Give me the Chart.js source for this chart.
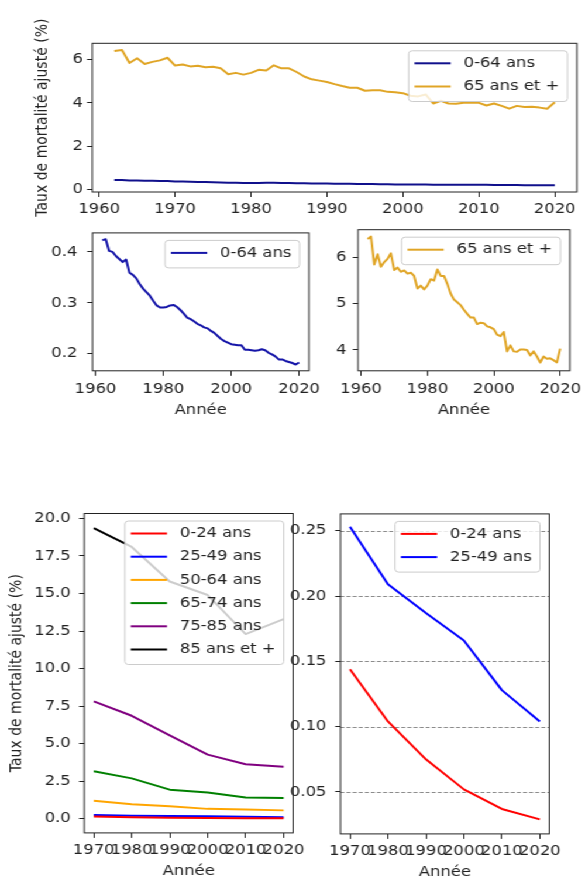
<!DOCTYPE html>
<html><head><meta charset="utf-8">
<script src="https://cdn.jsdelivr.net/npm/chart.js@4.4.1/dist/chart.umd.min.js"></script>
<style>
html,body{margin:0;padding:0;background:#fff;width:587px;height:877px;overflow:hidden;}
#fig{position:absolute;left:0;top:0;width:502px;height:877px;transform:scaleX(1.17);transform-origin:0 0;}
#fig canvas{position:absolute;}
</style></head><body><div id="fig"></div>
<script>
// ---------- DATA ----------
const years = [1962,1963,1964,1965,1966,1967,1968,1969,1970,1971,1972,1973,1974,1975,1976,1977,1978,1979,1980,1981,1982,1983,1984,1985,1986,1987,1988,1989,1990,1991,1992,1993,1994,1995,1996,1997,1998,1999,2000,2001,2002,2003,2004,2005,2006,2007,2008,2009,2010,2011,2012,2013,2014,2015,2016,2017,2018,2019,2020];
const under65 = [0.423,0.425,0.402,0.400,0.392,0.386,0.380,0.385,0.359,0.355,0.348,0.337,0.328,0.321,0.314,0.304,0.295,0.291,0.291,0.292,0.295,0.296,0.292,0.286,0.279,0.271,0.268,0.264,0.259,0.256,0.252,0.250,0.245,0.241,0.235,0.229,0.225,0.222,0.219,0.218,0.217,0.217,0.208,0.208,0.207,0.206,0.207,0.209,0.207,0.202,0.199,0.195,0.189,0.189,0.186,0.184,0.182,0.179,0.183];
const over65 = [6.40,6.45,5.85,6.07,5.80,5.90,5.97,6.09,5.73,5.78,5.69,5.72,5.65,5.67,5.60,5.33,5.39,5.31,5.39,5.53,5.50,5.74,5.60,5.60,5.43,5.22,5.09,5.03,4.97,4.87,4.78,4.70,4.70,4.56,4.59,4.58,4.51,4.49,4.45,4.33,4.30,4.39,3.97,4.10,3.97,3.96,4.01,4.01,4.00,3.88,3.97,3.86,3.73,3.86,3.81,3.82,3.78,3.73,4.03];

const decades = [1970,1980,1990,2000,2010,2020];
const age0_24  = [0.144,0.104,0.075,0.052,0.037,0.029];
const age25_49 = [0.253,0.209,0.187,0.166,0.128,0.104];
const age50_64 = [1.20,0.96,0.83,0.66,0.62,0.56];
const age65_74 = [3.16,2.69,1.94,1.75,1.41,1.39];
const age75_85 = [7.82,6.86,5.56,4.27,3.63,3.46];
const age85p   = [19.36,18.10,15.80,14.90,12.30,13.30];

const topXTicks = [1960,1970,1980,1990,2000,2010,2020];
const topYTicks = [0,2,4,6];
const midXTicks = [1960,1980,2000,2020];
const midLeftYTicks = [0.2,0.3,0.4];
const midRightYTicks = [4,5,6];
const decadeTicks = [1970,1980,1990,2000,2010,2020];
const botLeftYTicks = [0,2.5,5,7.5,10,12.5,15,17.5,20];
const botRightYTicks = [0.05,0.10,0.15,0.20,0.25];

const YLABEL = 'Taux de mortalité ajusté (%)';
const XLABEL = 'Année';

// ---------- STYLE ----------
const SX = 1.17;
const FONT = "'DejaVu Sans', sans-serif";
const TXT = '#222';
Chart.defaults.font.family = FONT;
Chart.defaults.font.size = 14;
Chart.defaults.color = TXT;

const gridPlugin = {
  id: 'mplGrid',
  beforeDatasetsDraw(chart, args, opts) {
    if (!opts || !opts.enabled) return;
    const ctx = chart.ctx, ca = chart.chartArea, ys = chart.scales.y;
    ctx.save();
    ctx.strokeStyle = '#8c8c8c'; ctx.lineWidth = 1; ctx.setLineDash([3.4, 1.8]);
    ys.ticks.forEach(t => {
      const y = Math.round(ys.getPixelForValue(t.value)) + 0.5;
      ctx.beginPath(); ctx.moveTo(ca.left, y); ctx.lineTo(ca.right, y); ctx.stroke();
    });
    ctx.restore();
  }
};
const framePlugin = {
  id: 'mplFrame',
  afterDatasetsDraw(chart) {
    const ctx = chart.ctx, ca = chart.chartArea;
    ctx.save(); ctx.strokeStyle = TXT; ctx.lineWidth = 1;
    ctx.strokeRect(ca.left, ca.top, ca.right - ca.left, ca.bottom - ca.top);
    ctx.restore();
  }
};
const legendPlugin = {
  id: 'mplLegend',
  afterDatasetsDraw(chart) {
    const ctx = chart.ctx, ca = chart.chartArea;
    const items = chart.data.datasets.map(d => ({label: d.label, color: d.borderColor}));
    ctx.save();
    ctx.font = "14px " + FONT;
    const maxW = Math.max(...items.map(i => ctx.measureText(i.label).width));
    const padL = 5, handle = 31, gap = 11, padR = 7;
    const w = padL + handle + gap + maxW + padR;
    const firstOff = 12.5, pitch = 23.2, botOff = 15;
    const h = firstOff + (items.length - 1) * pitch + botOff;
    const x = ca.right - 8 - w, y = ca.top + 7.5, r = 3;
    ctx.beginPath();
    ctx.moveTo(x + r, y); ctx.lineTo(x + w - r, y); ctx.arcTo(x + w, y, x + w, y + r, r);
    ctx.lineTo(x + w, y + h - r); ctx.arcTo(x + w, y + h, x + w - r, y + h, r);
    ctx.lineTo(x + r, y + h); ctx.arcTo(x, y + h, x, y + h - r, r);
    ctx.lineTo(x, y + r); ctx.arcTo(x, y, x + r, y, r); ctx.closePath();
    ctx.fillStyle = 'rgba(255,255,255,0.8)'; ctx.fill();
    ctx.strokeStyle = '#cccccc'; ctx.lineWidth = 1; ctx.stroke();
    items.forEach((it, i) => {
      const cy = y + firstOff + i * pitch;
      ctx.beginPath(); ctx.strokeStyle = it.color; ctx.lineWidth = 2;
      ctx.moveTo(x + padL, cy); ctx.lineTo(x + padL + handle, cy); ctx.stroke();
      ctx.fillStyle = TXT; ctx.textBaseline = 'middle'; ctx.textAlign = 'left';
      ctx.fillText(it.label, x + padL + handle + gap, cy);
    });
    ctx.restore();
  }
};

function panel(p) {
  const L = p.plot.l / SX, R = p.plot.r / SX;
  const left = L - p.axisW;
  const top = p.plot.t - p.padTop;
  const width = Math.round(R + p.padRight - left);
  const height = Math.round(p.plot.b + p.axisH - top);
  const cv = document.createElement('canvas');
  cv.width = width; cv.height = height;
  cv.style.left = left + 'px'; cv.style.top = top + 'px';
  cv.style.width = width + 'px'; cv.style.height = height + 'px';
  document.getElementById('fig').appendChild(cv);
  new Chart(cv, {
    type: 'line',
    data: {
      datasets: p.series.map(s => ({
        label: s.label,
        data: s.x.map((xv, i) => ({x: xv, y: s.y[i]})),
        borderColor: s.color, backgroundColor: s.color,
        borderWidth: 2, pointRadius: 0, tension: 0, fill: false,
        borderJoinStyle: 'round'
      }))
    },
    options: {
      responsive: false, maintainAspectRatio: false, animation: false, devicePixelRatio: 1,
      events: [],
      layout: { padding: { left: 0, top: p.padTop, right: p.padRight, bottom: 0 } },
      plugins: { legend: { display: false }, tooltip: { enabled: false }, mplGrid: { enabled: !!p.grid } },
      scales: {
        x: {
          type: 'linear', position: 'bottom', min: p.xMin, max: p.xMax,
          afterBuildTicks: s => { s.ticks = p.xTicks.map(v => ({value: v})); },
          afterFit: s => { s.height = p.axisH; },
          ticks: { autoSkip: false, maxRotation: 0, minRotation: 0, padding: p.xPad, color: TXT,
                   callback: v => String(v) },
          grid: { drawOnChartArea: false, drawTicks: true, tickLength: 5, tickColor: TXT, tickWidth: 1 },
          border: { display: false },
          title: { display: !!p.xTitle, text: p.xTitle || '', color: TXT, padding: { top: 0, bottom: 0 } }
        },
        y: {
          type: 'linear', position: 'left', min: p.yMin, max: p.yMax,
          afterBuildTicks: s => { s.ticks = p.yTicks.map(v => ({value: v})); },
          afterFit: s => { s.width = p.axisW; },
          ticks: { autoSkip: false, padding: p.yPad, color: TXT,
                   callback: v => p.yFmt(v) },
          grid: { drawOnChartArea: false, drawTicks: true, tickLength: 4.5, tickColor: TXT, tickWidth: 1 },
          border: { display: false },
          title: { display: !!p.yTitle, text: p.yTitle || '', color: TXT, padding: { top: p.yTitlePad || 0, bottom: 0 } }
        }
      }
    },
    plugins: [gridPlugin, framePlugin, legendPlugin]
  });
}

// Top panel
panel({
  plot: {l: 92.3, r: 576.3, t: 43.3, b: 191.5}, axisW: 92.3 / SX, padTop: 43.3, padRight: 9, axisH: 30,
  xMin: 1959.1, xMax: 2022.9, yMin: -0.13, yMax: 6.76, xTicks: topXTicks, yTicks: topYTicks,
  yFmt: v => String(v), xPad: 4.4, yPad: 3.5, yTitle: YLABEL, yTitlePad: 28.2,
  series: [
    {label: '0-64 ans', x: years, y: under65, color: '#10108c'},
    {label: '65 ans et +', x: years, y: over65, color: '#e0a526'}
  ]
});
// Middle-left
panel({
  plot: {l: 92.5, r: 312, t: 221, b: 370.7}, axisW: 92.5 / SX, padTop: 5, padRight: 12, axisH: 48.2,
  xMin: 1959.1, xMax: 2022.9, yMin: 0.1667, yMax: 0.4373, xTicks: midXTicks, yTicks: midLeftYTicks,
  yFmt: v => v.toFixed(1), xPad: 5, yPad: 8.5, xTitle: XLABEL,
  series: [ {label: '0-64 ans', x: years, y: under65, color: '#1515a8'} ]
});
// Middle-right
panel({
  plot: {l: 357.5, r: 576.5, t: 221, b: 370.7}, axisW: 30, padTop: 5, padRight: 9, axisH: 48.2,
  xMin: 1959.1, xMax: 2022.9, yMin: 3.55, yMax: 6.6, xTicks: midXTicks, yTicks: midRightYTicks,
  yFmt: v => String(v), xPad: 5, yPad: 5.3, xTitle: XLABEL,
  series: [ {label: '65 ans et +', x: years, y: over65, color: '#e0a526'} ]
});
// Bottom-left
panel({
  plot: {l: 84.3, r: 296.8, t: 503.3, b: 833.3}, axisW: 84.3 / SX, padTop: 5, padRight: 11, axisH: 47.1,
  xMin: 1967.5, xMax: 2022.5, yMin: -0.94, yMax: 20.33, xTicks: decadeTicks, yTicks: botLeftYTicks,
  yFmt: v => v.toFixed(1), xPad: 4.3, yPad: 7.1, xTitle: XLABEL, yTitle: YLABEL, yTitlePad: 5.5,
  series: [
    {label: '0-24 ans', x: decades, y: age0_24, color: '#ff0000'},
    {label: '25-49 ans', x: decades, y: age25_49, color: '#0000ff'},
    {label: '50-64 ans', x: decades, y: age50_64, color: '#ffa500'},
    {label: '65-74 ans', x: decades, y: age65_74, color: '#008000'},
    {label: '75-85 ans', x: decades, y: age75_85, color: '#800080'},
    {label: '85 ans et +', x: decades, y: age85p, color: '#000000'}
  ]
});
// Bottom-right
panel({
  plot: {l: 340.7, r: 554, t: 503.3, b: 834}, axisW: 46, padTop: 5, padRight: 11, axisH: 47.1,
  xMin: 1967.5, xMax: 2022.5, yMin: 0.0179, yMax: 0.2629, xTicks: decadeTicks, yTicks: botRightYTicks,
  yFmt: v => v.toFixed(2), xPad: 4.3, yPad: 7.5, xTitle: XLABEL, grid: true,
  series: [
    {label: '0-24 ans', x: decades, y: age0_24, color: '#ff0000'},
    {label: '25-49 ans', x: decades, y: age25_49, color: '#0000ff'}
  ]
});
</script>
</body></html>
